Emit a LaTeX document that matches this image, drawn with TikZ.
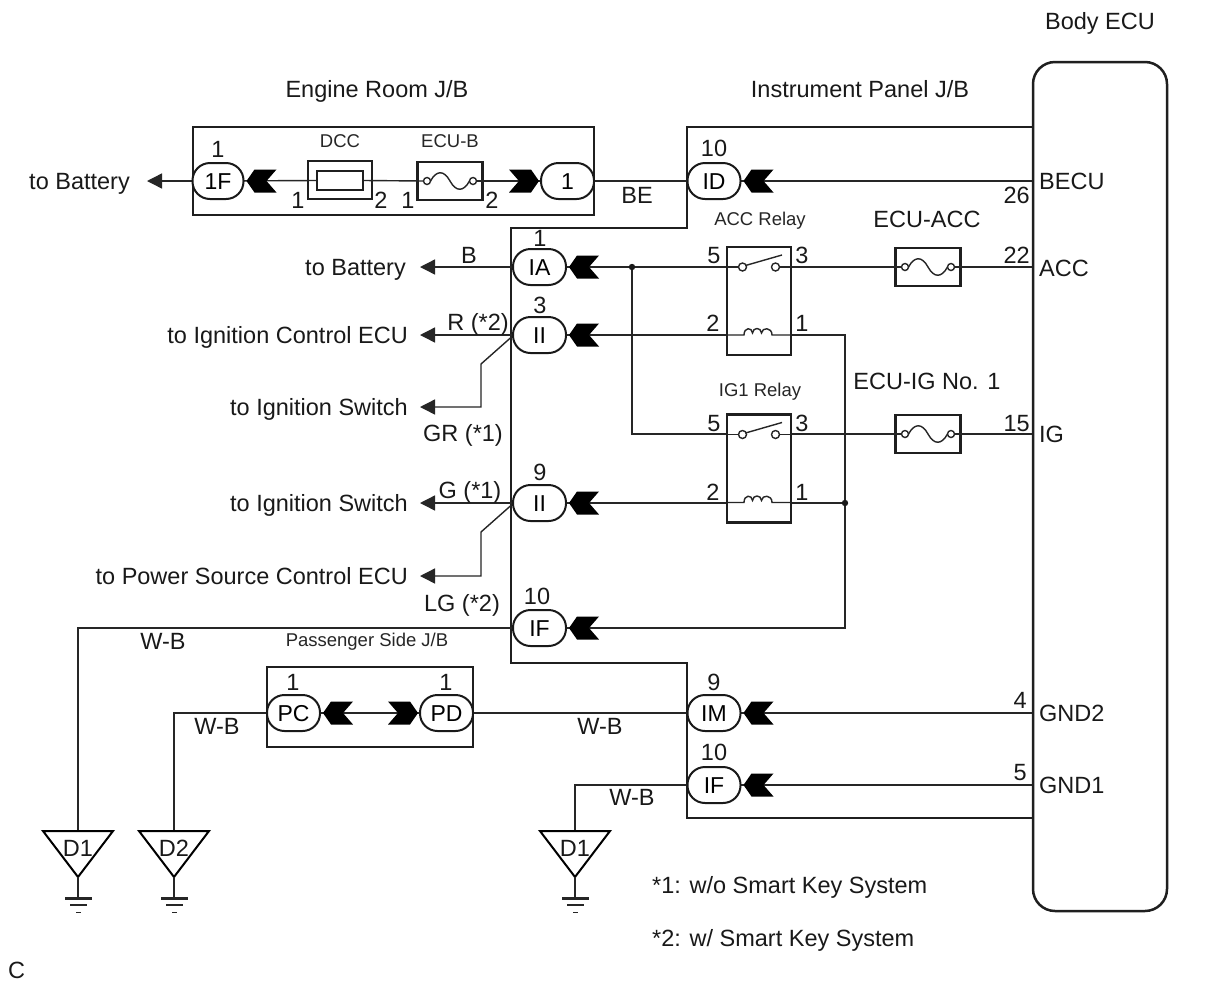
\documentclass[tikz,border=0pt]{standalone}
\usepackage{fontspec}
\setmainfont{Liberation Sans}
\usetikzlibrary{arrows.meta}
\tikzset{
  wire/.style={line width=1.4pt, draw=black!85},
  boxl/.style={line width=2.5pt, draw=black!88},
  pill/.style={draw=black!90, line width=2pt, fill=white, rounded corners=17.5pt,
    minimum width=53pt, minimum height=36pt, inner sep=0pt,
    font=\fontsize{23}{25}\selectfont, text height=16pt, text depth=0pt},
  big/.style={font=\fontsize{23.5}{26}\selectfont, inner sep=0pt, text height=17pt, text depth=0pt, text=black!90},
  small/.style={font=\fontsize{18.5}{20}\selectfont, inner sep=0pt, text height=13.5pt, text depth=0pt, text=black!85},
  tobat/.style={-{Triangle[length=15pt,width=15pt]}},
  fem/.pic={\fill[black] (0,0) -- (8,-11.5) -- (30,-11.5) -- (20,0) -- (30,11.5) -- (8,11.5) -- cycle;},
  male/.pic={\fill[black] (0,0) -- (-8,-11.5) -- (-30,-11.5) -- (-20,0) -- (-30,11.5) -- (-8,11.5) -- cycle;},
  gndsym/.pic={
    \draw[line width=2pt, line join=miter] (-35,0) -- (35,0) -- (0,46) -- cycle;
    \node[big] at (0,17) {#1};
    \draw[wire] (0,46) -- (0,67);
    \fill[black!85] (-13.5,65.5) rectangle (13.5,68.5);
    \fill[black!85] (-8.5,73) rectangle (8.5,75);
    \fill[black!85] (-2.5,80.5) rectangle (2.5,82);
  },
  relaybox/.style={draw=black!88, line width=2.3pt, minimum width=64pt, minimum height=108pt, inner sep=0pt},
  fusebox/.style={draw=black!88, line width=2.2pt, minimum width=65pt, minimum height=38pt, inner sep=0pt},
}
\newcommand{\fusewave}[1]{%
  \draw[wire] ([xshift=-23pt]#1.center) circle[radius=3.5pt] ([xshift=23pt]#1.center) circle[radius=3.5pt];
  \draw[wire] ([xshift=-19.5pt]#1.center) .. controls +(6,-11) and +(-6,-11) .. (#1.center)
     .. controls +(6,11) and +(-6,11) .. ([xshift=19.5pt]#1.center);}
\newcommand{\relaysym}[1]{%
  \begin{scope}[shift={(#1.center)}]
    \draw[wire] (-32,-34) -- (-20.5,-34);
    \draw[wire] (-16.5,-34) circle[radius=4pt] (16.5,-34) circle[radius=4pt];
    \draw[wire] (20.5,-34) -- (32,-34);
    \draw[wire] (-13.5,-35.5) -- (23,-46);
    \draw[wire] (-32,34) -- (-15,34) .. controls (-15,26) and (-7,26) .. (-6.5,32)
      .. controls (-6,26) and (2,26) .. (2.5,32) .. controls (3,26) and (13,26) .. (13,34) -- (32,34);
  \end{scope}}
\begin{document}
\begin{tikzpicture}[x=1pt,y=-1pt]
\useasboundingbox[fill=white] (0,0) rectangle (1210,986);
% Body ECU
\node[boxl, draw, rounded corners=22pt, minimum width=134pt, minimum height=849pt, inner sep=0pt] (ecu) at (1100,486.5) {};
\node[big] at (1100,21) {Body ECU};
\coordinate (pBECU) at (ecu.west |- 0,181);
\coordinate (pACC) at (ecu.west |- 0,267);
\coordinate (pIG) at (ecu.west |- 0,434);
\coordinate (pGND2) at (ecu.west |- 0,713);
\coordinate (pGND1) at (ecu.west |- 0,785);
% Boxes
\node[boxl, minimum width=401pt, minimum height=88pt, inner sep=0pt] (erjb) at (393.5,171) {};
\node[big] at (377,89) {Engine Room J/B};
\node[big] at (860,89) {Instrument Panel J/B};
\draw[boxl] (ecu.west |- 0,127) -- (687,127) -- (687,228) -- (511,228) -- (511,663) -- (687,663) -- (687,818) -- (ecu.west |- 0,818);
\node[boxl, minimum width=206pt, minimum height=80pt, inner sep=0pt] (psjb) at (370,707) {};
\node[small] at (367,640) {Passenger Side J/B};
% fuses
\node[fusebox, minimum width=64pt] (dcc) at (340,180) {};
\node[draw=black!88, line width=2.2pt, minimum width=46pt, minimum height=19pt, inner sep=0pt] (dccin) at (340,180.5) {};
\node[small] at (340,141) {DCC};
\node[fusebox] (fECUB) at (450,181) {};
\node[small] at (450,141) {ECU-B};
\node[fusebox] (fACC) at (928,267) {};
\node[big] at (927,219) {ECU-ACC};
\node[fusebox] (fIG) at (928,434) {};
\node[big] at (927,381) {ECU-IG No. 1};
% relays
\node[relaybox] (accR) at (759,301) {};
\node[small] at (760,219) {ACC Relay};
\node[relaybox] (ig1R) at (759,468.5) {};
\node[small] at (760,390) {IG1 Relay};
% coordinates
\coordinate (aBat1) at (147,181);
\coordinate (aBat2) at (420,267);
\coordinate (aIC) at (420,335);
\coordinate (aIS1) at (420,407);
\coordinate (aIS2) at (420,503);
\coordinate (aPS) at (420,576);
\coordinate (bend1) at (481,364);
\coordinate (bend2) at (481,532);
\coordinate (j1) at (632,267);
\coordinate (j2) at (845,503);
\coordinate (gD1a) at (78,831);
\coordinate (gD2) at (174,831);
\coordinate (gD1b) at (575,831);
% connector positions
\coordinate (c1Fp) at (218,181);
\coordinate (cE1p) at (567.5,181);
\coordinate (cIDp) at (714,181);
\coordinate (cIAp) at (539.5,267);
\coordinate (cIIap) at (539.5,335);
\coordinate (cIIbp) at (539.5,503);
\coordinate (cIFap) at (539.5,628);
\coordinate (cPCp) at (293.5,713);
\coordinate (cPDp) at (446.5,713);
\coordinate (cIMp) at (714,713);
\coordinate (cIFbp) at (714,785);
% wires
\draw[wire, tobat] (c1Fp) -- (aBat1);
\draw[wire] (c1Fp) -- (dccin.west);
\draw[wire] (dccin.east) -- ([xshift=-26.5pt]fECUB.center);
\draw[wire] ([xshift=26.5pt]fECUB.center) -- (cE1p);
\draw[wire] (cE1p) -- (cIDp);
\draw[wire] (cIDp) -- (pBECU);
\draw[wire, tobat] (cIAp) -- (aBat2);
\draw[wire] (cIAp) -- (j1) -- (accR.west |- j1);
\draw[wire] (j1) |- (ig1R.west |- pIG);
\draw[wire] (accR.east |- j1) -- ([xshift=-26.5pt]fACC.center);
\draw[wire] ([xshift=26.5pt]fACC.center) -- (pACC);
\draw[wire, tobat] (cIIap) -- (aIC);
\draw[wire, tobat] ([xshift=-28pt,yshift=-2pt]cIIap) -- (bend1) |- (aIS1);
\draw[wire] (cIIap) -- (accR.west |- cIIap);
\draw[wire] (accR.east |- cIIap) -| (j2 |- cIFap) -- (cIFap);
\draw[wire, tobat] (cIIbp) -- (aIS2);
\draw[wire, tobat] ([xshift=-28pt,yshift=-2pt]cIIbp) -- (bend2) |- (aPS);
\draw[wire] (cIIbp) -- (ig1R.west |- cIIbp);
\draw[wire] (ig1R.east |- cIIbp) -- (j2);
\draw[wire] (ig1R.east |- pIG) -- ([xshift=-26.5pt]fIG.center);
\draw[wire] ([xshift=26.5pt]fIG.center) -- (pIG);
\draw[wire] (cIFap) -| (gD1a);
\draw[wire] (cPCp) -| (gD2);
\draw[wire] (cPCp) -- (cPDp);
\draw[wire] (cPDp) -- (cIMp);
\draw[wire] (cIMp) -- (pGND2);
\draw[wire] (cIFbp) -- (pGND1);
\draw[wire] (cIFbp) -| (gD1b);
\fill[black!90] (j1) circle[radius=3.2pt];
\fill[black!90] (j2) circle[radius=3.2pt];
% fuse and relay symbols
\fusewave{fECUB}
\fusewave{fACC}
\fusewave{fIG}
\relaysym{accR}
\relaysym{ig1R}
% connectors
\node[pill, minimum width=51pt] (c1F) at (c1Fp) {1F};
\node[pill] (cE1) at (cE1p) {1};
\node[pill] (cID) at (cIDp) {ID};
\node[pill] (cIA) at (cIAp) {IA};
\node[pill] (cIIa) at (cIIap) {II};
\node[pill] (cIIb) at (cIIbp) {II};
\node[pill] (cIFa) at (cIFap) {IF};
\node[pill] (cPC) at (cPCp) {PC};
\node[pill] (cPD) at (cPDp) {PD};
\node[pill] (cIM) at (cIMp) {IM};
\node[pill] (cIFb) at (cIFbp) {IF};
\foreach \c in {c1F,cID,cIA,cIIa,cIIb,cIFa,cPC,cIM,cIFb} \pic at ([xshift=2pt]\c.east) {fem};
\foreach \c in {cE1,cPD} \pic at ([xshift=-1pt]\c.west) {male};
% grounds
\pic at (gD1a) {gndsym=D1};
\pic at (gD2) {gndsym=D2};
\pic at (gD1b) {gndsym=D1};
% pin numbers
\node[big] at (218,149) {1};
\node[big] at (714,148) {10};
\node[big] at (540,238) {1};
\node[big] at (540,305) {3};
\node[big] at (540,472) {9};
\node[big] at (537,596) {10};
\node[big] at (293,682) {1};
\node[big] at (446,682) {1};
\node[big] at (714,682) {9};
\node[big] at (714,752) {10};
\node[big] at (298,200) {1};
\node[big] at (381,200) {2};
\node[big] at (408,200) {1};
\node[big] at (492,200) {2};
\node[big] at (714,255) {5};
\node[big] at (802,255) {3};
\node[big] at (713,323) {2};
\node[big] at (802,323) {1};
\node[big] at (714,423) {5};
\node[big] at (802,423) {3};
\node[big] at (713,492) {2};
\node[big] at (802,492) {1};
% ECU pins
\node[big, anchor=west] at (1039,181) {BECU};
\node[big, anchor=east] at (1030,195) {26};
\node[big, anchor=west] at (1039,268) {ACC};
\node[big, anchor=east] at (1030,255) {22};
\node[big, anchor=west] at (1039,434) {IG};
\node[big, anchor=east] at (1030,423) {15};
\node[big, anchor=west] at (1039,713) {GND2};
\node[big, anchor=east] at (1027,700) {4};
\node[big, anchor=west] at (1039,785) {GND1};
\node[big, anchor=east] at (1027,772) {5};
% wire labels
\node[big] at (637,195) {BE};
\node[big] at (469,255) {B};
\node[big] at (478,322) {R (*2)};
\node[big] at (463,433) {GR (*1)};
\node[big] at (470,490) {G (*1)};
\node[big] at (462,603) {LG (*2)};
\node[big] at (163,641) {W-B};
\node[big] at (217,726) {W-B};
\node[big] at (600,726) {W-B};
\node[big] at (632,797) {W-B};
% destinations
\node[big, anchor=east] at (130,181) {to Battery};
\node[big, anchor=east] at (406,267) {to Battery};
\node[big, anchor=east] at (408,335) {to Ignition Control ECU};
\node[big, anchor=east] at (408,407) {to Ignition Switch};
\node[big, anchor=east] at (408,503) {to Ignition Switch};
\node[big, anchor=east] at (408,576) {to Power Source Control ECU};
% notes
\node[big, anchor=west] at (652,885) {*1: w/o Smart Key System};
\node[big, anchor=west] at (652,938) {*2: w/ Smart Key System};
\node[big, anchor=west] at (8,970) {C};
\end{tikzpicture}
\end{document}
